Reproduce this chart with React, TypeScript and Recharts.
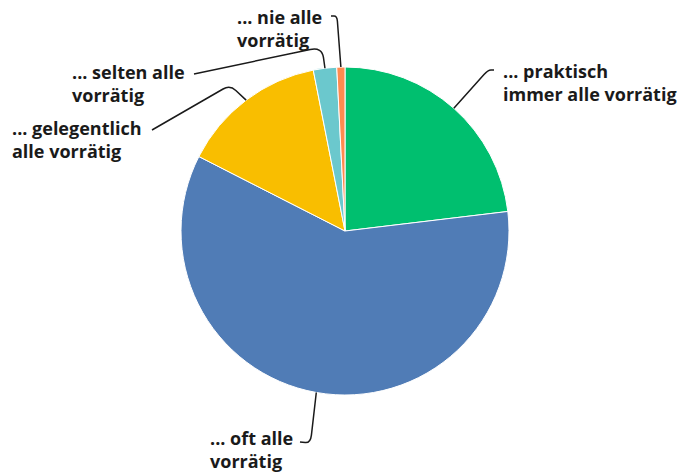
import React from 'react';
import { PieChart, Pie, Cell } from 'recharts';

// Antwortkategorien (im Uhrzeigersinn ab 12 Uhr)
const CATEGORIES = [
  '... praktisch immer alle vorrätig',
  '... oft alle vorrätig',
  '... gelegentlich alle vorrätig',
  '... selten alle vorrätig',
  '... nie alle vorrätig',
];
const LABEL_LINES = [
  ['... praktisch', 'immer alle vorrätig'],
  ['... oft alle', 'vorrätig'],
  ['... gelegentlich', 'alle vorrätig'],
  ['... selten alle', 'vorrätig'],
  ['... nie alle', 'vorrätig'],
];
const SHARES = [23.1, 59.4, 14.4, 2.3, 0.8];
const COLORS = ['#00BF6F', '#507CB6', '#F9BE00', '#6BC8CD', '#FF8B4F'];

// Position der Beschriftungen und Knickpunkte der Führungslinien
const LABEL_LAYOUT = [
  { x: 503, y: 78, elbow: [488, 70], end: [494, 70], r: 6 },
  { x: 210, y: 445, elbow: [310.5, 443], end: [300, 442], r: 8 },
  { x: 12, y: 135, elbow: [230, 85], end: [152, 130], r: 8 },
  { x: 72, y: 79, elbow: [322, 47], end: [194, 74], r: 12 },
  { x: 237, y: 24, elbow: [337, 16], end: [331, 16], r: 5 },
];

const data = CATEGORIES.map((name, i) => ({ name, value: SHARES[i] }));

const RADIAN = Math.PI / 180;

const roundedPath = (pts: number[][], r: number) => {
  const [p0, p1, p2] = pts;
  const d1 = Math.hypot(p0[0] - p1[0], p0[1] - p1[1]);
  const d2 = Math.hypot(p2[0] - p1[0], p2[1] - p1[1]);
  const r1 = Math.min(r, d1 / 2);
  const r2 = Math.min(r, d2 / 2);
  const a = [p1[0] + ((p0[0] - p1[0]) / d1) * r1, p1[1] + ((p0[1] - p1[1]) / d1) * r1];
  const b = [p1[0] + ((p2[0] - p1[0]) / d2) * r2, p1[1] + ((p2[1] - p1[1]) / d2) * r2];
  return `M${p0[0]},${p0[1]} L${a[0]},${a[1]} Q${p1[0]},${p1[1]} ${b[0]},${b[1]} L${p2[0]},${p2[1]}`;
};

const renderLabel = (props: any) => {
  const { cx, cy, midAngle, outerRadius, index } = props;
  const layout = LABEL_LAYOUT[index];
  const sx = cx + outerRadius * Math.cos(-midAngle * RADIAN);
  const sy = cy + outerRadius * Math.sin(-midAngle * RADIAN);
  const d = roundedPath([[sx, sy], layout.elbow, layout.end], layout.r);
  return (
    <g key={`label-${index}`}>
      <path d={d} fill="none" stroke="#1a1a1a" strokeWidth={1.5} />
      <text
        x={layout.x}
        y={layout.y}
        fill="#1a1a1a"
        fontFamily="'Open Sans', sans-serif"
        fontWeight={700}
        fontSize={18}
        textAnchor="start"
      >
        {LABEL_LINES[index].map((line, j) => (
          <tspan key={j} x={layout.x} dy={j === 0 ? 0 : 23}>
            {line}
          </tspan>
        ))}
      </text>
    </g>
  );
};

export default function App() {
  return (
    <div style={{ position: 'absolute', left: 0, top: 0, width: 680, height: 476, background: '#fff' }}>
      <PieChart width={680} height={476} margin={{ top: 0, right: 0, bottom: 0, left: 0 }}>
        <Pie
          data={data}
          dataKey="value"
          nameKey="name"
          cx={345}
          cy={231}
          outerRadius={164}
          startAngle={90}
          endAngle={-270}
          stroke="#fff"
          strokeWidth={1}
          label={renderLabel}
          labelLine={false}
          isAnimationActive={false}
        >
          {data.map((entry, i) => (
            <Cell key={entry.name} fill={COLORS[i]} />
          ))}
        </Pie>
      </PieChart>
    </div>
  );
}
